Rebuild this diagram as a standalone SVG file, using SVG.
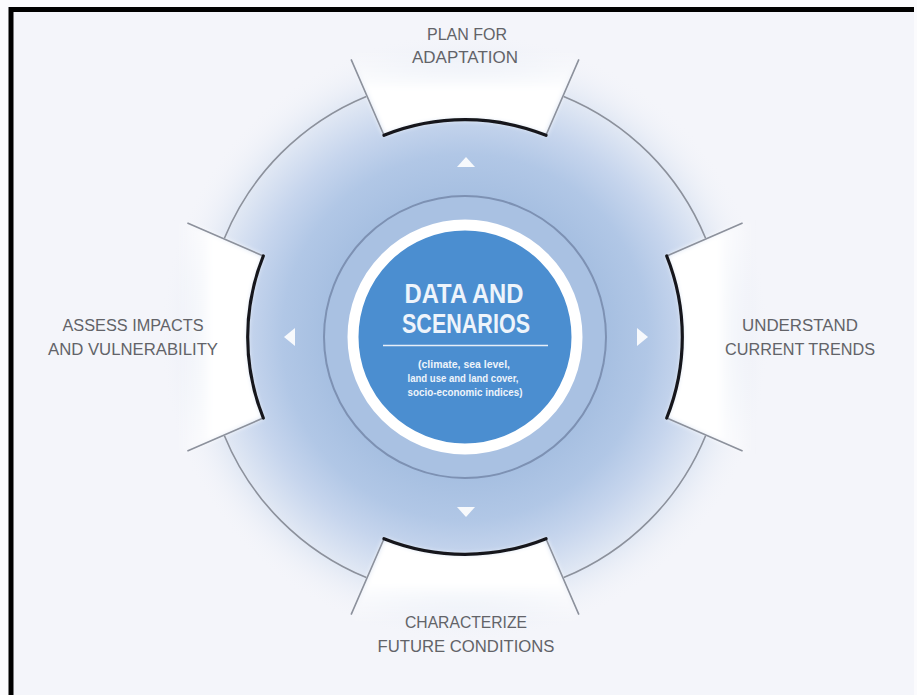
<svg xmlns="http://www.w3.org/2000/svg" width="917" height="695" viewBox="0 0 917 695">
  <defs>
    <radialGradient id="haze" cx="465" cy="337" r="305" gradientUnits="userSpaceOnUse">
      <stop offset="0" stop-color="#9db8de"/>
      <stop offset="0.46" stop-color="#a6bfe1"/>
      <stop offset="0.6" stop-color="#b1c7e6"/>
      <stop offset="0.72" stop-color="#c6d5ed"/>
      <stop offset="0.85" stop-color="#e1e8f4"/>
      <stop offset="1" stop-color="#f4f5fa" stop-opacity="0"/>
    </radialGradient>
    <linearGradient id="fadeUp" x1="0" y1="1" x2="0" y2="0">
      <stop offset="0" stop-color="#ffffff"/>
      <stop offset="0.55" stop-color="#ffffff"/>
      <stop offset="1" stop-color="#ffffff" stop-opacity="0"/>
    </linearGradient>
    <linearGradient id="fadeDown" x1="0" y1="0" x2="0" y2="1">
      <stop offset="0" stop-color="#ffffff"/>
      <stop offset="0.55" stop-color="#ffffff"/>
      <stop offset="1" stop-color="#ffffff" stop-opacity="0"/>
    </linearGradient>
    <linearGradient id="fadeLeft" x1="1" y1="0" x2="0" y2="0">
      <stop offset="0" stop-color="#ffffff"/>
      <stop offset="0.6" stop-color="#ffffff"/>
      <stop offset="1" stop-color="#ffffff" stop-opacity="0"/>
    </linearGradient>
    <linearGradient id="fadeRight" x1="0" y1="0" x2="1" y2="0">
      <stop offset="0" stop-color="#ffffff"/>
      <stop offset="0.6" stop-color="#ffffff"/>
      <stop offset="1" stop-color="#ffffff" stop-opacity="0"/>
    </linearGradient>
    <filter id="soft" x="-10%" y="-10%" width="120%" height="120%">
      <feGaussianBlur stdDeviation="0.6"/>
    </filter>
    <filter id="haze-blur" x="-20%" y="-20%" width="140%" height="140%">
      <feGaussianBlur stdDeviation="2.5"/>
    </filter>
  </defs>
  <style>
    .label { font-family: "Liberation Sans", Arial, sans-serif; font-size: 16px; fill: #626368; text-anchor: middle; }
    .title { font-family: "Liberation Sans", Arial, sans-serif; font-size: 27px; font-weight: bold; fill: #eef4fb; text-anchor: middle; }
    .sub { font-family: "Liberation Sans", Arial, sans-serif; font-size: 10px; font-weight: bold; fill: #eef4fb; text-anchor: middle; }
    .rim { fill: none; stroke: #8c919c; stroke-width: 1.6; }
    .edge { fill: none; stroke: #16181c; stroke-width: 3.2; stroke-linecap: round; }
    .pointer { fill: #ffffff; opacity: 0.9; }
  </style>

  <!-- page and frame -->
  <rect x="0" y="0" width="917" height="695" fill="#fbfbfd"/>
  <rect x="11" y="10" width="903" height="685" fill="#f4f5fa"/>
  <path d="M11,695 L11,9.5 L914,9.5" fill="none" stroke="#000000" stroke-width="5"/>

  <!-- soft blue halo around the cycle -->
  <circle cx="465" cy="337" r="305" fill="url(#haze)"/>

  <!-- notch openings, fading out toward the labels -->
  <g id="notches" filter="url(#haze-blur)">
    <path fill="url(#fadeUp)" d="M384,135.3 A218,218 0 0 1 546,135.3 L580,52 L350,52 Z"/>
    <path fill="url(#fadeRight)" d="M666.7,256 A218,218 0 0 1 666.7,418 L752,455 L752,219 Z"/>
    <path fill="url(#fadeDown)" d="M546,538.7 A218,218 0 0 1 384,538.7 L350,622 L580,622 Z"/>
    <path fill="url(#fadeLeft)" d="M263.3,418 A218,218 0 0 1 263.3,256 L178,219 L178,455 Z"/>
  </g>

  <!-- outer rim and notch outlines -->
  <g id="connectors" filter="url(#soft)">
    <path class="rim" d="M563.7,96.4 A260,260 0 0 1 705.6,238.3"/>
    <path class="rim" d="M705.6,435.7 A260,260 0 0 1 563.7,577.6"/>
    <path class="rim" d="M366.3,577.6 A260,260 0 0 1 224.4,435.7"/>
    <path class="rim" d="M224.4,238.3 A260,260 0 0 1 366.3,96.4"/>

    <path class="rim" d="M384,135.3 L351.1,59.4 M546,135.3 L578.9,59.4"/>
    <path class="rim" d="M666.7,256 L742.6,223.1 M666.7,418 L742.6,450.9"/>
    <path class="rim" d="M384,538.7 L351.1,614.6 M546,538.7 L578.9,614.6"/>
    <path class="rim" d="M263.3,256 L187.4,223.1 M263.3,418 L187.4,450.9"/>

    <path class="edge" d="M384,135.3 A218,218 0 0 1 546,135.3"/>
    <path class="edge" d="M666.7,256 A218,218 0 0 1 666.7,418"/>
    <path class="edge" d="M546,538.7 A218,218 0 0 1 384,538.7"/>
    <path class="edge" d="M263.3,418 A218,218 0 0 1 263.3,256"/>

    <polygon class="pointer" points="466,157 457,167 475,167"/>
    <polygon class="pointer" points="648,337 637,328 637,346"/>
    <polygon class="pointer" points="466,517 457,507 475,507"/>
    <polygon class="pointer" points="284,337 295,328 295,346"/>
  </g>

  <!-- central hub -->
  <g id="hub">
    <circle cx="465" cy="337" r="141" fill="#a9c1e2" stroke="#7d91b3" stroke-width="2" filter="url(#soft)"/>
    <circle cx="465" cy="337" r="112" fill="#4b8ed0" stroke="#ffffff" stroke-width="11" filter="url(#soft)"/>
    <text class="title" x="464" y="303" textLength="119" lengthAdjust="spacingAndGlyphs">DATA AND</text>
    <text class="title" x="466" y="333" textLength="128" lengthAdjust="spacingAndGlyphs">SCENARIOS</text>
    <line x1="383" y1="345.5" x2="548" y2="345.5" stroke="#e6eef8" stroke-width="1.5"/>
    <text class="sub" x="464" y="368" textLength="92" lengthAdjust="spacingAndGlyphs">(climate, sea level,</text>
    <text class="sub" x="463" y="382" textLength="111" lengthAdjust="spacingAndGlyphs">land use and land cover,</text>
    <text class="sub" x="465" y="396" textLength="115" lengthAdjust="spacingAndGlyphs">socio-economic indices)</text>
  </g>

  <!-- stage labels -->
  <g id="plan">
    <text class="label" x="467" y="40" textLength="80" lengthAdjust="spacingAndGlyphs">PLAN FOR</text>
    <text class="label" x="465" y="63" textLength="106" lengthAdjust="spacingAndGlyphs">ADAPTATION</text>
  </g>
  <g id="understand">
    <text class="label" x="800" y="331" textLength="116" lengthAdjust="spacingAndGlyphs">UNDERSTAND</text>
    <text class="label" x="800" y="355" textLength="150" lengthAdjust="spacingAndGlyphs">CURRENT TRENDS</text>
  </g>
  <g id="characterize">
    <text class="label" x="466" y="628" textLength="122" lengthAdjust="spacingAndGlyphs">CHARACTERIZE</text>
    <text class="label" x="466" y="652" textLength="177" lengthAdjust="spacingAndGlyphs">FUTURE CONDITIONS</text>
  </g>
  <g id="assess">
    <text class="label" x="133" y="331" textLength="141" lengthAdjust="spacingAndGlyphs">ASSESS IMPACTS</text>
    <text class="label" x="133" y="355" textLength="170" lengthAdjust="spacingAndGlyphs">AND VULNERABILITY</text>
  </g>
</svg>
